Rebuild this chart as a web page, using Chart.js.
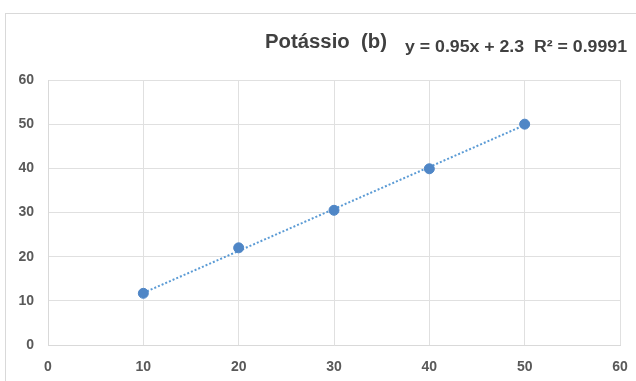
<!DOCTYPE html>
<html>
<head>
<meta charset="utf-8">
<script src="https://cdn.jsdelivr.net/npm/chart.js@4"></script>
<style>
  html, body { margin: 0; padding: 0; background: #fff; }
  #wrap { position: relative; width: 636px; height: 381px; overflow: hidden; }
  #frame { position: absolute; left: 5px; top: 13px; width: 640px; height: 380px;
           border-left: 1px solid #d9d9d9; border-top: 1px solid #d9d9d9; }
  canvas { position: absolute; left: 0; top: 0; }
</style>
</head>
<body>
<div id="wrap">
  <div id="frame"></div>
  <canvas id="chart" width="636" height="381"></canvas>
</div>
<script>
// dados
const xValues = [10, 20, 30, 40, 50];
const yValues = [11.7, 22.0, 30.5, 39.9, 50.0];
const trendX = [10, 50];
const trendY = [11.8, 49.8];
const xTicks = [0, 10, 20, 30, 40, 50, 60];
const yTicks = [0, 10, 20, 30, 40, 50, 60];
const titleText = 'Potássio  (b)';
const equationText = 'y = 0.95x + 2.3  R² = 0.9991';

const fontFamily = '"Liberation Sans", Arial, sans-serif';

// texto ajustado a uma largura fixa
function drawFitted(ctx, text, x, y, width) {
    const w = ctx.measureText(text).width;
    ctx.save();
    ctx.translate(x, y);
    ctx.scale(width / w, 1);
    ctx.fillText(text, 0, 0);
    ctx.restore();
}

// textos do título e da equação
const titlePlugin = {
    id: 'titleText',
    afterDraw(chart) {
        const ctx = chart.ctx;
        ctx.save();
        ctx.fillStyle = '#404040';
        ctx.textBaseline = 'alphabetic';
        ctx.textAlign = 'left';
        ctx.font = 'bold 20px ' + fontFamily;
        drawFitted(ctx, titleText, 265, 48, 122);
        ctx.font = 'bold 16px ' + fontFamily;
        drawFitted(ctx, equationText, 405, 52, 222);
        ctx.restore();
    }
};

new Chart(document.getElementById('chart'), {
    type: 'scatter',
    data: {
        datasets: [
            {
                label: 'Potássio',
                data: xValues.map((x, i) => ({ x: x, y: yValues[i] })),
                backgroundColor: '#4f86c6',
                borderColor: '#4f86c6',
                pointRadius: 5,
                pointHoverRadius: 5,
                order: 1
            },
            {
                label: 'Linear',
                type: 'line',
                data: trendX.map((x, i) => ({ x: x, y: trendY[i] })),
                borderColor: '#5b9bd5',
                borderWidth: 2,
                borderDash: [2, 2],
                pointRadius: 0,
                fill: false,
                order: 2
            }
        ]
    },
    options: {
        responsive: false,
        animation: false,
        layout: { padding: { left: 5, right: 16, top: 80, bottom: 4 } },
        scales: {
            x: {
                type: 'linear',
                min: 0,
                max: 60,
                afterBuildTicks: function (scale) {
                    scale.ticks = xTicks.map(v => ({ value: v }));
                },
                afterFit: function (scale) {
                    scale.height = 32;
                    scale.paddingLeft = 0;
                    scale.paddingRight = 0;
                },
                ticks: { color: '#595959', font: { family: fontFamily, size: 14, weight: 'bold' }, padding: 14 },
                grid: { color: '#e0e0e0', drawTicks: false },
                border: { color: '#d9d9d9' }
            },
            y: {
                min: 0,
                max: 60,
                afterBuildTicks: function (scale) {
                    scale.ticks = yTicks.map(v => ({ value: v }));
                },
                afterFit: function (scale) {
                    scale.width = 43;
                    scale.paddingTop = 0;
                    scale.paddingBottom = 0;
                },
                ticks: { color: '#595959', font: { family: fontFamily, size: 14, weight: 'bold' }, padding: 14 },
                grid: { color: '#e0e0e0', drawTicks: false },
                border: { color: '#d9d9d9' }
            }
        },
        plugins: {
            legend: { display: false },
            tooltip: { enabled: false }
        }
    },
    plugins: [titlePlugin]
});
</script>
</body>
</html>
